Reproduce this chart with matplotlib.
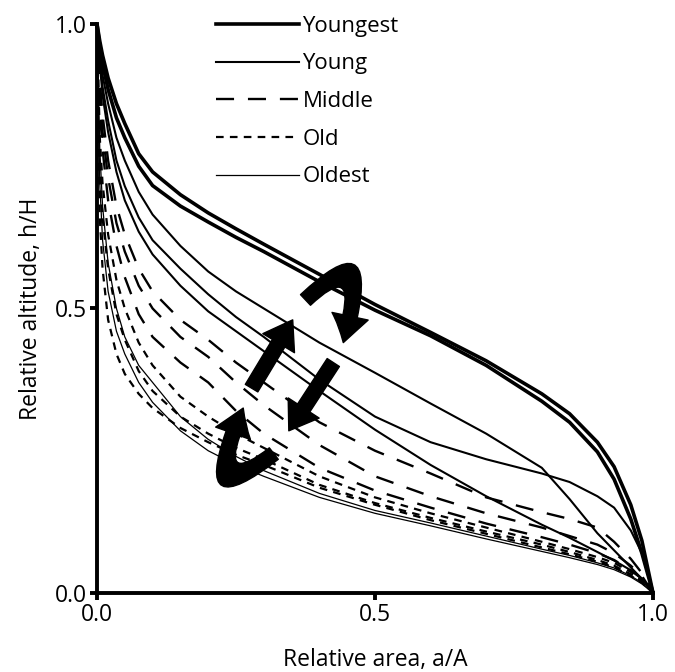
import matplotlib
matplotlib.use("Agg")
import matplotlib.pyplot as plt
from matplotlib.patches import FancyArrowPatch
from matplotlib.path import Path
from matplotlib.lines import Line2D

plt.rcParams['font.family'] = ['Open Sans', 'DejaVu Sans']
plt.rcParams['lines.scale_dashes'] = False

# relative area a/A (shared sample points)
area = [0.0, 0.005, 0.01, 0.02, 0.035, 0.05, 0.075, 0.1, 0.15, 0.2, 0.25, 0.3,
        0.4, 0.5, 0.6, 0.7, 0.8, 0.85, 0.9, 0.93, 0.96, 0.98, 1.0]

# relative altitude h/H
youngest = [
    [1.0, 0.97, 0.945, 0.905, 0.86, 0.825, 0.772, 0.74, 0.70, 0.668, 0.64, 0.613,
     0.56, 0.507, 0.458, 0.408, 0.35, 0.315, 0.265, 0.222, 0.155, 0.092, 0.0],
    [1.0, 0.96, 0.93, 0.885, 0.835, 0.80, 0.75, 0.716, 0.68, 0.652, 0.625, 0.60,
     0.547, 0.497, 0.452, 0.40, 0.337, 0.30, 0.248, 0.20, 0.13, 0.07, 0.0],
]
young = [
    [1.0, 0.95, 0.91, 0.86, 0.80, 0.76, 0.705, 0.665, 0.61, 0.565, 0.53, 0.50,
     0.44, 0.387, 0.333, 0.28, 0.22, 0.165, 0.105, 0.075, 0.045, 0.025, 0.0],
    [1.0, 0.94, 0.89, 0.83, 0.76, 0.715, 0.66, 0.62, 0.57, 0.525, 0.485, 0.45,
     0.375, 0.31, 0.265, 0.235, 0.21, 0.195, 0.17, 0.15, 0.11, 0.07, 0.0],
    [1.0, 0.93, 0.875, 0.81, 0.74, 0.69, 0.635, 0.595, 0.54, 0.495, 0.46, 0.425,
     0.355, 0.287, 0.225, 0.17, 0.12, 0.097, 0.072, 0.057, 0.04, 0.025, 0.0],
]
middle = [
    [1.0, 0.90, 0.84, 0.76, 0.68, 0.63, 0.57, 0.53, 0.48, 0.445, 0.405, 0.37,
     0.30, 0.25, 0.21, 0.168, 0.142, 0.13, 0.115, 0.09, 0.06, 0.035, 0.0],
    [1.0, 0.88, 0.81, 0.73, 0.65, 0.60, 0.54, 0.50, 0.45, 0.415, 0.37, 0.33,
     0.26, 0.205, 0.17, 0.14, 0.115, 0.10, 0.085, 0.07, 0.048, 0.03, 0.0],
    [1.0, 0.85, 0.78, 0.69, 0.61, 0.555, 0.49, 0.45, 0.405, 0.37, 0.32, 0.28,
     0.22, 0.18, 0.15, 0.122, 0.098, 0.085, 0.07, 0.058, 0.04, 0.025, 0.0],
]
old = [
    [1.0, 0.80, 0.72, 0.63, 0.55, 0.50, 0.44, 0.40, 0.345, 0.31, 0.28, 0.255,
     0.205, 0.168, 0.14, 0.115, 0.09, 0.077, 0.063, 0.053, 0.037, 0.022, 0.0],
    [1.0, 0.74, 0.66, 0.57, 0.49, 0.445, 0.39, 0.355, 0.31, 0.28, 0.255, 0.235,
     0.19, 0.158, 0.132, 0.108, 0.085, 0.072, 0.058, 0.048, 0.033, 0.02, 0.0],
    [1.0, 0.66, 0.57, 0.48, 0.42, 0.385, 0.35, 0.325, 0.29, 0.265, 0.243, 0.225,
     0.185, 0.155, 0.128, 0.104, 0.08, 0.068, 0.055, 0.045, 0.03, 0.018, 0.0],
]
oldest = [
    [1.0, 0.78, 0.68, 0.58, 0.50, 0.45, 0.40, 0.37, 0.31, 0.27, 0.24, 0.215,
     0.175, 0.145, 0.123, 0.10, 0.077, 0.066, 0.053, 0.044, 0.03, 0.018, 0.0],
    [1.0, 0.72, 0.62, 0.53, 0.46, 0.42, 0.37, 0.335, 0.285, 0.25, 0.225, 0.205,
     0.168, 0.14, 0.118, 0.095, 0.073, 0.062, 0.05, 0.041, 0.028, 0.016, 0.0],
]

labels = ['Youngest', 'Young', 'Middle', 'Old', 'Oldest']
groups = [youngest, young, middle, old, oldest]
styles = [
    dict(lw=2.6, ls='-'),
    dict(lw=1.5, ls='-'),
    dict(lw=1.7, ls=(0, (13, 10))),
    dict(lw=1.6, ls=(0, (5.5, 4.5))),
    dict(lw=0.9, ls='-'),
]

fig = plt.figure(figsize=(6.75, 6.72), dpi=100)
ax = fig.add_axes([0.1437, 0.1176, 0.8237, 0.8467])

for curves, st in zip(groups, styles):
    for h in curves:
        ax.plot(area, h, color='black', clip_on=False, solid_capstyle='butt',
                dash_capstyle='butt', **st)

# cycle arrows: (start, control, end) as quadratic curves
arrow_kw = dict(arrowstyle='simple,head_width=1.9,head_length=1.4,tail_width=0.75',
                color='black', mutation_scale=14, zorder=5, shrinkA=0, shrinkB=0)
arrows = [
    ((0.318, 0.245), (0.18, 0.14), (0.263, 0.325)),
    ((0.278, 0.36), (0.315, 0.42), (0.352, 0.48)),
    ((0.375, 0.515), (0.50, 0.63), (0.443, 0.44)),
    ((0.425, 0.405), (0.385, 0.345), (0.345, 0.285)),
]
for p0, c, p1 in arrows:
    path = Path([p0, c, p1], [Path.MOVETO, Path.CURVE3, Path.CURVE3])
    ax.add_patch(FancyArrowPatch(path=path, **arrow_kw))

ax.set_xlim(0, 1)
ax.set_ylim(0, 1)
ax.set_xticks([0, 0.5, 1.0])
ax.set_yticks([0, 0.5, 1.0])
ax.set_xticklabels(['0.0', '0.5', '1.0'])
ax.set_yticklabels(['0.0', '0.5', '1.0'])
for s in ['top', 'right']:
    ax.spines[s].set_visible(False)
for s in ['left', 'bottom']:
    ax.spines[s].set_linewidth(2.8)
ax.tick_params(length=5, width=2.8, labelsize=16.5, pad=2, colors='black')
ax.set_xlabel('Relative area, a/A', fontsize=16.5, labelpad=15)
ax.set_ylabel('Relative altitude, h/H', fontsize=16.5, labelpad=9)

handles = [Line2D([0], [0], color='black', **st) for st in styles]
ax.legend(handles, labels, loc='upper left', bbox_to_anchor=(0.198, 1.03),
          frameon=False, fontsize=16, handlelength=3.75, handletextpad=0.14,
          labelspacing=0.75, borderaxespad=0)

fig.savefig('out.png', dpi=100)
